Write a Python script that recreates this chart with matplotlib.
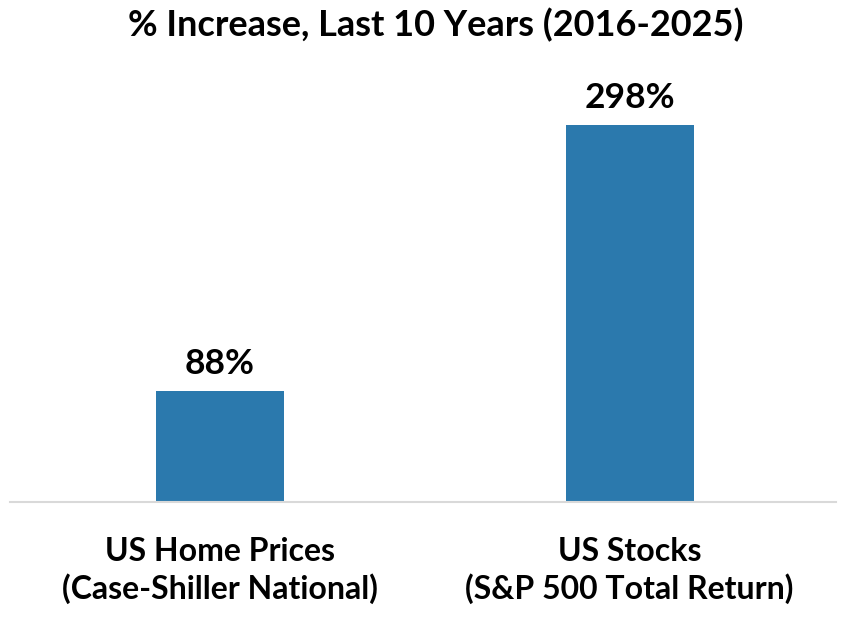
import matplotlib
matplotlib.use("Agg")
import matplotlib.pyplot as plt

categories = ["US Home Prices\n(Case-Shiller National)", "US Stocks\n(S&P 500 Total Return)"]
values = [88, 298]
value_labels = ["88%", "298%"]
title = "% Increase, Last 10 Years (2016-2025)"

W, H = 849, 618
fig = plt.figure(figsize=(W / 100, H / 100), dpi=100)
plt.rcParams['font.family'] = ['Lato', 'DejaVu Sans']

px_per_unit = 1.265
ymax = 350
left, right = 10, 836
base = 502
ax = fig.add_axes([left / W, (H - base) / H, (right - left) / W, ymax * px_per_unit / H])

color = "#2B79AD"
x = range(len(values))
ax.bar(x, values, width=0.3125, color=color, zorder=2)
ax.set_xlim(-0.513, 1.504)
ax.set_ylim(0, ymax)

for i, (v, lab) in enumerate(zip(values, value_labels)):
    ax.annotate(lab, (i, v), xytext=(0, 8), textcoords="offset points",
                ha="center", va="bottom", fontsize=25.5, fontweight="bold", color="black")

for s in ["top", "right", "left"]:
    ax.spines[s].set_visible(False)
ax.spines["bottom"].set_color("#D9D9D9")
ax.spines["bottom"].set_linewidth(1.5)
ax.set_yticks([])
ax.set_xticks(list(x))
ax.set_xticklabels(categories, fontsize=23, fontweight="bold", linespacing=1.3)
ax.tick_params(axis="x", length=0, pad=25)

fig.text(436 / W, 1 - 25 / H, title, ha="center", va="center", fontsize=26, fontweight="bold")

fig.savefig("out.png", dpi=100, facecolor="white")
